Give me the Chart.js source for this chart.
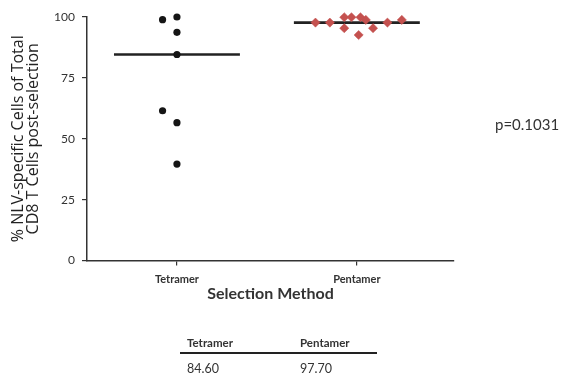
<!DOCTYPE html>
<html>
<head>
<meta charset="utf-8">
<script src="https://cdn.jsdelivr.net/npm/chart.js@4.4.1/dist/chart.umd.min.js"></script>
<style>
body { margin: 0; background: #fff; }
#wrap { position: relative; width: 564px; height: 374px; font-family: Lato, sans-serif; color: #333; }
#wrap canvas { position: absolute; left: 0; top: 0; }
.txt { position: absolute; white-space: nowrap; line-height: 16px; }
#pval { left: 495px; top: 116px; font-size: 15px; }
.th { top: 335px; font-size: 11.5px; font-weight: bold; }
.td { top: 361px; font-size: 12.5px; }
#rule { position: absolute; left: 180px; top: 352px; width: 197px; height: 2px; background: #222; }
</style>
</head>
<body>
<div id="wrap">
<canvas id="plot" width="564" height="374"></canvas>
<div class="txt" id="pval">p=0.1031</div>
<div class="txt th" style="left:187px">Tetramer</div>
<div class="txt th" style="left:300px">Pentamer</div>
<div id="rule"></div>
<div class="txt td" style="left:187px">84.60</div>
<div class="txt td" style="left:300px">97.70</div>
</div>
<script>

// ===== Data =====

const categories = ["Tetramer", "Pentamer"];

const tetramerValues = [98.9, 100, 93.7, 84.6, 61.5, 56.6, 39.6];
const tetramerJitter = [-0.08, 0, 0, 0, -0.08, 0, 0];

const pentamerValues = [97.7, 97.7, 99.9, 99.9, 99.9, 98.8, 95.4, 92.6, 95.4, 97.7, 98.8];
const pentamerJitter = [-0.23, -0.15, -0.07, -0.03, 0.02, 0.05, -0.07, 0.01, 0.09, 0.17, 0.25];

const medians = [84.6, 97.7];
const yTicks = [0, 25, 50, 75, 100];

const medianHalfWidth = 0.35;


// ===== Build points =====

function toPoints(values, jitter, catIndex) {
    return values.map((v, i) => ({ x: catIndex + jitter[i], y: v }));
}

const medianSets = medians.map((m, i) => ({
    type: "line",
    data: [{ x: i - medianHalfWidth, y: m }, { x: i + medianHalfWidth, y: m }],
    borderColor: "#222",
    borderWidth: 2.6,
    pointRadius: 0,
    showLine: true,
    clip: false,
    order: 2
}));


// ===== Chart =====

const chart = document.getElementById("plot");

new Chart(chart, {

type: "scatter",

data: {

datasets: [
    ...medianSets,
    {
        data: toPoints(tetramerValues, tetramerJitter, 0),
        pointStyle: "circle",
        pointRadius: 3.6,
        pointBackgroundColor: "#151515",
        pointBorderWidth: 0,
        clip: false,
        order: 1
    },
    {
        data: toPoints(pentamerValues, pentamerJitter, 1),
        pointStyle: "rectRot",
        pointRadius: 4.6,
        pointBackgroundColor: "#c4514f",
        pointBorderColor: "#c4514f",
        pointBorderWidth: 0.5,
        clip: false,
        order: 1
    }
]

},

options: {

responsive: false,

animation: false,

layout: {
    padding: { top: 17, right: 110, bottom: 69.5, left: 0 }
},

plugins: {
    legend: { display: false },
    tooltip: { enabled: false }
},

scales: {

x: {
    type: "linear",
    min: -0.5,
    max: 1.54,
    afterBuildTicks: (scale) => {
        scale.ticks = categories.map((c, i) => ({ value: i }));
    },
    afterFit: (scale) => { scale.height = 44; },
    grid: { drawOnChartArea: false, drawTicks: true, tickLength: 5, color: "#333", lineWidth: 1.2 },
    border: { color: "#333", width: 1.5 },
    ticks: {
        padding: 7,
        color: "#333",
        font: { family: "Lato", size: 11, weight: "bold" },
        callback: (v) => categories[v]
    },
    title: {
        display: true,
        text: "Selection Method",
        color: "#333",
        padding: { top: 0, bottom: 1 },
        font: { family: "Lato", size: 16, weight: "bold", lineHeight: 1.2 }
    }
},

y: {
    min: 0,
    max: 100,
    afterBuildTicks: (scale) => {
        scale.ticks = yTicks.map((v) => ({ value: v }));
    },
    afterFit: (scale) => { scale.width = 87; },
    grid: { drawOnChartArea: false, drawTicks: true, tickLength: 5, color: "#333", lineWidth: 1.2 },
    border: { color: "#333", width: 1.5 },
    ticks: {
        padding: 7,
        color: "#333",
        font: { family: "Lato", size: 12 }
    },
    title: {
        display: true,
        text: ["% NLV-specific Cells of Total", "CD8 T Cells post-selection"],
        color: "#222",
        padding: { top: 11, bottom: 0 },
        font: { family: "'Open Sans'", size: 16, lineHeight: 0.95 }
    }
}

}

}

});

</script>
</body>
</html>
